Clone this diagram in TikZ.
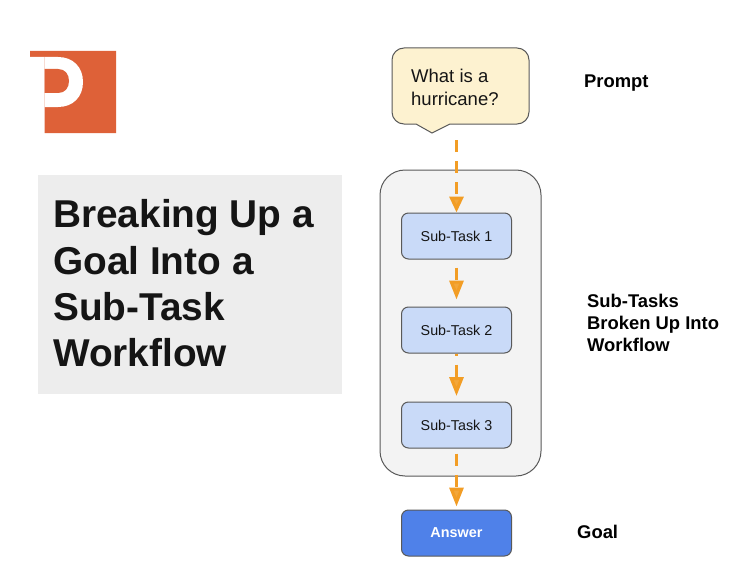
\documentclass[tikz,border=0pt]{standalone}
\usepackage{fontspec}
\setmainfont{Liberation Sans}
\usetikzlibrary{positioning}
\usetikzlibrary{arrows.meta}
\definecolor{logoorange}{HTML}{DE6138}
\definecolor{promptfill}{HTML}{FDF2D0}
\definecolor{edgegray}{HTML}{595959}
\definecolor{flowfill}{HTML}{F3F3F3}
\definecolor{taskfill}{HTML}{C9DAF8}
\definecolor{answerfill}{HTML}{4F81E9}
\definecolor{flowarrow}{HTML}{F29D25}
\definecolor{inkblack}{HTML}{151515}
\tikzset{x=1pt, y=-1pt, % Same units as the reference pixels
      taskbox/.style={ % Sets the properties for each sub-task
      draw=edgegray,
      line width=1pt,
      rounded corners=7pt,
      fill=taskfill,
      text=inkblack,
      minimum width=110pt,
      minimum height=46pt,
      font=\fontsize{14.3}{17}\selectfont},
      sidelabel/.style={ % Bold notes on the right
      anchor=west,
      align=left,
      inner sep=0pt,
      font=\bfseries\fontsize{18.4}{22}\selectfont},
      flowedge/.style={ % Dashed orange connector with a big head
      draw=flowarrow,
      line width=3.2pt,
      dash pattern=on 12pt off 9pt,
      -{Triangle[length=19pt,width=14pt,fill=flowarrow!90!white]}}}
\begin{document}
\begin{tikzpicture}
      \useasboundingbox (0,0) rectangle (750,578);
      % logo
      \fill[logoorange] (30,51) -- (116,51) -- (116,133) -- (44.5,133) -- (44.5,57) -- (30,57) -- cycle;
      \fill[white] (30,57) -- (58,57) .. controls (73,57) and (83,67) .. (83,82) .. controls (83,97) and (73,107) .. (58,107) -- (44.5,107) -- (44.5,57) -- cycle;
      \fill[logoorange] (44.5,69) -- (58,69) .. controls (65,69) and (69,74) .. (69,81) .. controls (69,88) and (65,93) .. (58,93) -- (44.5,93) -- cycle;
      % title
      \fill[black!7] (38,175) rectangle (342,394);
      \node[anchor=north west, align=left, inner sep=0pt, text=inkblack, font=\bfseries\fontsize{38.8}{46.2}\selectfont] (title) at (53,199.5) {Breaking Up a\\Goal Into a\\Sub-Task\\Workflow};
      % prompt bubble
      \draw[draw=edgegray, line width=1pt, fill=promptfill] [rounded corners=12pt] (392,48) -- (529,48) -- (529,124) [sharp corners] -- (450,124) -- (432,133) -- (416,124) [rounded corners=12pt] -- (392,124) -- cycle;
      \node[anchor=west, align=left, inner sep=0pt, text=inkblack, font=\fontsize{18.5}{22.5}\selectfont] (prompt) at (411,87.5) {What is a\\hurricane?};
      % workflow
      \draw[draw=edgegray, line width=1pt, fill=flowfill, rounded corners=25pt] (380,170) rectangle (541,476);
      \node[taskbox] (task1) at (456.5,236) {Sub-Task 1};
      \node[taskbox, below=47pt of task1] (task2) {Sub-Task 2};
      \node[taskbox, below=48pt of task2] (task3) {Sub-Task 3};
      \node[taskbox, below=61pt of task3, fill=answerfill, text=white, font=\bfseries\fontsize{14.4}{17}\selectfont] (answer) {Answer};
      \coordinate (start) at (456.5,140);
      \draw[flowedge, -{Triangle[length=16pt,width=14pt,fill=flowarrow!90!white]}] (start) -- (task1);
      \draw[flowedge, shorten <=8pt, shorten >=7pt] (task1) -- (task2);
      \draw[flowedge, dash phase=10pt, shorten >=5.5pt] (task2) -- (task3);
      \draw[flowedge, shorten <=5pt, shorten >=3pt] (task3) -- (answer);
      % notes
      \node[sidelabel] (promptnote) at (584,83) {Prompt};
      \node[sidelabel] (tasknote) at (587,323) {Sub-Tasks\\Broken Up Into\\Workflow};
      \node[sidelabel] (goalnote) at (577,532) {Goal};
\end{tikzpicture}
\end{document}
